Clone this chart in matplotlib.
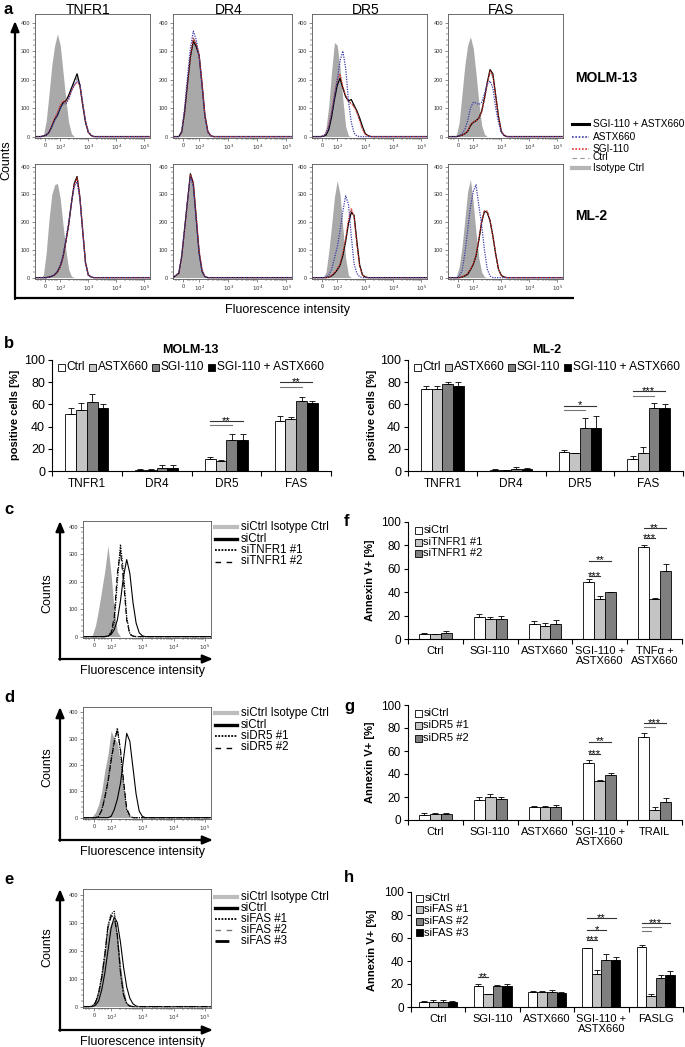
import numpy as np
import matplotlib
matplotlib.use('Agg')
import matplotlib.pyplot as plt
from matplotlib.patches import Rectangle

plt.rcParams['font.family'] = ['Liberation Sans', 'DejaVu Sans']

# ---- flow histograms: counts on a display-unit grid
# (u = log10 of intensity, 10^2 -> 2, 10^3 -> 3 ...)
U_GRID = [1.3, 1.4, 1.5, 1.6, 1.7, 1.8, 1.9, 2.0, 2.1, 2.2, 2.3,
          2.4, 2.5, 2.6, 2.7, 2.8, 2.9, 3.0, 3.1, 3.2, 3.3]
X_TICKS = [1.45, 2, 3, 4, 5]
X_TICK_LABELS = ['0', '$10^2$', '$10^3$', '$10^4$', '$10^5$']

# panel a, MOLM-13
molm_tnfr1 = dict(
    iso=[0, 5, 55, 150, 250, 320, 360, 320, 225, 130, 50, 10, 0, 0, 0, 0, 0, 0, 0, 0, 0],
    ctrl=[0, 2, 5, 15, 35, 60, 80, 105, 120, 125, 140, 165, 190, 205, 180, 112, 50, 15, 4, 0, 0],
    sgi=[0, 2, 5, 15, 40, 65, 85, 110, 125, 120, 135, 160, 180, 190, 180, 115, 55, 15, 4, 0, 0],
    astx=[0, 2, 5, 15, 35, 55, 75, 100, 115, 115, 130, 160, 180, 195, 185, 120, 55, 18, 5, 0, 0],
    combo=[0, 2, 5, 15, 35, 60, 75, 100, 120, 125, 145, 170, 195, 220, 180, 110, 50, 15, 4, 0, 0])
molm_dr4 = dict(
    iso=[0, 15, 90, 190, 290, 350, 330, 280, 180, 70, 15, 2, 0, 0, 0, 0, 0, 0, 0, 0, 0],
    ctrl=[0, 15, 88, 188, 285, 340, 320, 285, 185, 72, 16, 2, 0, 0, 0, 0, 0, 0, 0, 0, 0],
    sgi=[0, 15, 90, 190, 285, 345, 325, 290, 190, 75, 18, 3, 0, 0, 0, 0, 0, 0, 0, 0, 0],
    astx=[0, 20, 100, 210, 310, 370, 340, 280, 175, 65, 15, 2, 0, 0, 0, 0, 0, 0, 0, 0, 0],
    combo=[0, 15, 85, 185, 280, 335, 315, 285, 185, 75, 18, 3, 0, 0, 0, 0, 0, 0, 0, 0, 0])
molm_dr5 = dict(
    iso=[0, 0, 2, 30, 110, 230, 330, 320, 240, 130, 35, 3, 0, 0, 0, 0, 0, 0, 0, 0, 0],
    ctrl=[0, 0, 2, 8, 35, 85, 145, 195, 215, 172, 142, 122, 118, 105, 85, 58, 28, 8, 2, 0, 0],
    sgi=[0, 0, 2, 10, 40, 90, 150, 200, 220, 175, 145, 125, 115, 105, 85, 55, 25, 8, 2, 0, 0],
    astx=[0, 0, 2, 10, 35, 80, 140, 200, 265, 300, 240, 125, 50, 12, 2, 0, 0, 0, 0, 0, 0],
    combo=[0, 0, 1, 5, 25, 70, 130, 180, 205, 170, 140, 125, 130, 110, 90, 65, 35, 10, 3, 0, 0])
molm_fas = dict(
    iso=[0, 5, 50, 150, 250, 320, 350, 310, 220, 120, 40, 8, 0, 0, 0, 0, 0, 0, 0, 0, 0],
    ctrl=[0, 0, 2, 5, 10, 20, 42, 55, 58, 68, 90, 135, 188, 225, 210, 140, 68, 18, 4, 0, 0],
    sgi=[0, 0, 2, 5, 10, 20, 40, 52, 55, 65, 85, 130, 185, 230, 215, 140, 70, 20, 5, 0, 0],
    astx=[0, 0, 3, 10, 25, 55, 100, 120, 118, 112, 120, 150, 185, 195, 170, 100, 50, 15, 3, 0, 0],
    combo=[0, 0, 2, 5, 10, 18, 38, 50, 55, 65, 88, 135, 190, 235, 220, 145, 70, 18, 4, 0, 0])

# panel a, ML-2
ml2_tnfr1 = dict(
    iso=[0, 10, 90, 210, 300, 335, 340, 285, 190, 100, 30, 5, 0, 0, 0, 0, 0, 0, 0, 0, 0],
    ctrl=[0, 0, 0, 2, 5, 10, 20, 40, 74, 130, 190, 272, 338, 362, 290, 170, 55, 10, 2, 0, 0],
    sgi=[0, 0, 0, 2, 5, 10, 20, 40, 72, 128, 188, 268, 335, 360, 292, 172, 55, 10, 2, 0, 0],
    astx=[0, 0, 0, 2, 5, 12, 25, 45, 80, 140, 200, 270, 330, 345, 285, 165, 50, 8, 2, 0, 0],
    combo=[0, 0, 0, 2, 5, 10, 20, 40, 75, 130, 190, 270, 340, 365, 290, 170, 55, 10, 2, 0, 0])
ml2_dr4 = dict(
    iso=[15, 70, 170, 270, 360, 330, 210, 90, 25, 3, 0, 0, 0, 0, 0, 0, 0, 0, 0, 0, 0],
    ctrl=[15, 74, 175, 275, 372, 338, 212, 90, 25, 3, 0, 0, 0, 0, 0, 0, 0, 0, 0, 0, 0],
    sgi=[15, 72, 172, 272, 370, 345, 225, 100, 30, 4, 0, 0, 0, 0, 0, 0, 0, 0, 0, 0, 0],
    astx=[18, 80, 180, 280, 365, 325, 205, 85, 22, 3, 0, 0, 0, 0, 0, 0, 0, 0, 0, 0, 0],
    combo=[15, 75, 175, 275, 375, 340, 215, 90, 25, 3, 0, 0, 0, 0, 0, 0, 0, 0, 0, 0, 0])
ml2_dr5 = dict(
    iso=[0, 0, 0, 20, 95, 190, 290, 350, 300, 180, 70, 8, 0, 0, 0, 0, 0, 0, 0, 0, 0],
    ctrl=[0, 0, 0, 0, 2, 7, 16, 30, 48, 85, 135, 200, 242, 222, 125, 42, 9, 2, 0, 0, 0],
    sgi=[0, 0, 0, 0, 2, 8, 18, 30, 50, 90, 140, 210, 250, 220, 120, 40, 8, 2, 0, 0, 0],
    astx=[0, 0, 0, 2, 10, 30, 70, 110, 170, 240, 295, 265, 150, 50, 15, 3, 0, 0, 0, 0, 0],
    combo=[0, 0, 0, 0, 2, 6, 15, 28, 45, 80, 130, 195, 235, 225, 130, 45, 10, 2, 0, 0, 0])
ml2_fas = dict(
    iso=[0, 5, 40, 110, 210, 310, 355, 270, 160, 70, 20, 3, 0, 0, 0, 0, 0, 0, 0, 0, 0],
    ctrl=[0, 0, 0, 2, 7, 14, 29, 49, 79, 138, 203, 238, 238, 205, 150, 85, 30, 8, 2, 0, 0],
    sgi=[0, 0, 0, 2, 8, 15, 30, 50, 80, 140, 205, 240, 240, 205, 150, 85, 30, 8, 2, 0, 0],
    astx=[0, 0, 5, 25, 85, 170, 255, 310, 335, 260, 190, 100, 30, 6, 0, 0, 0, 0, 0, 0, 0],
    combo=[0, 0, 0, 2, 6, 12, 28, 48, 78, 135, 200, 240, 235, 205, 150, 85, 30, 8, 2, 0, 0])

# panels c, d, e (knock-down histograms)
c_hist = dict(
    iso=[0, 5, 40, 100, 170, 240, 330, 225, 95, 18, 0, 0, 0, 0, 0, 0, 0, 0, 0, 0, 0],
    si_ctrl=[0, 0, 0, 0, 0, 0, 2, 8, 25, 60, 130, 220, 280, 230, 125, 50, 14, 3, 0, 0, 0],
    si1=[0, 0, 0, 0, 0, 0, 2, 10, 50, 200, 335, 230, 70, 10, 2, 0, 0, 0, 0, 0, 0],
    si2=[0, 0, 0, 0, 0, 0, 3, 15, 70, 230, 310, 200, 60, 8, 2, 0, 0, 0, 0, 0, 0])
d_hist = dict(
    iso=[0, 5, 20, 50, 100, 180, 240, 330, 300, 285, 210, 110, 30, 5, 0, 0, 0, 0, 0, 0, 0],
    si_ctrl=[0, 0, 0, 0, 0, 0, 0, 5, 30, 70, 130, 225, 320, 290, 190, 90, 25, 5, 0, 0, 0],
    si1=[0, 0, 0, 5, 30, 80, 140, 220, 290, 340, 250, 130, 30, 6, 0, 0, 0, 0, 0, 0, 0],
    si2=[0, 0, 0, 5, 28, 75, 135, 215, 285, 335, 260, 140, 35, 8, 0, 0, 0, 0, 0, 0, 0])
e_hist = dict(
    iso=[0, 5, 25, 60, 120, 190, 270, 300, 310, 265, 150, 65, 15, 3, 0, 0, 0, 0, 0, 0, 0],
    si_ctrl=[0, 0, 5, 20, 60, 120, 200, 280, 320, 300, 230, 140, 70, 30, 10, 2, 0, 0, 0, 0, 0],
    si1=[0, 2, 15, 50, 110, 190, 290, 330, 340, 250, 120, 40, 10, 2, 0, 0, 0, 0, 0, 0, 0],
    si2=[0, 2, 12, 45, 100, 180, 280, 320, 330, 260, 130, 45, 12, 2, 0, 0, 0, 0, 0, 0, 0],
    si3=[0, 2, 14, 48, 105, 185, 285, 325, 320, 255, 125, 42, 10, 2, 0, 0, 0, 0, 0, 0, 0])

# ---- bar charts
receptors = ['TNFR1', 'DR4', 'DR5', 'FAS']
treat_labels = ['Ctrl', 'ASTX660', 'SGI-110', 'SGI-110 + ASTX660']
molm_mean = [[51, 1, 11, 45], [55, 1, 9, 47], [62, 3, 28, 63], [57, 3, 28, 61]]
molm_sd = [[6, 0.5, 1.5, 5], [6, 0.7, 1, 2], [7, 2, 5, 4], [3, 2, 5, 2]]
ml2_mean = [[74, 1, 17, 11], [74, 0.5, 16, 16], [78, 2, 39, 57], [77, 1.5, 39, 57]]
ml2_sd = [[3, 0.5, 1.5, 2.5], [3, 0.3, 0.5, 6], [2, 1.5, 9, 4], [3, 1, 11, 3]]

f_cats = ['Ctrl', 'SGI-110', 'ASTX660', 'SGI-110 +\nASTX660', 'TNFα +\nASTX660']
f_labels = ['siCtrl', 'siTNFR1 #1', 'siTNFR1 #2']
f_mean = [[4, 19, 13, 49, 79], [4, 17.5, 11, 34, 34], [5, 17, 12.5, 40, 58]]
f_sd = [[1.5, 2, 2.5, 2, 1], [0.5, 1.5, 2.5, 2.5, 1], [1.5, 3, 3.5, 0.5, 6]]

g_cats = ['Ctrl', 'SGI-110', 'ASTX660', 'SGI-110 +\nASTX660', 'TRAIL']
g_labels = ['siCtrl', 'siDR5 #1', 'siDR5 #2']
g_mean = [[4, 17.5, 11, 50, 72], [5, 20, 11.5, 34, 9], [5, 18.5, 11.5, 39, 15.5]]
g_sd = [[2, 2.5, 1, 2, 4], [1.5, 2.5, 1, 0.5, 2], [1.5, 1.5, 1.5, 1.5, 3.5]]

h_cats = ['Ctrl', 'SGI-110', 'ASTX660', 'SGI-110 +\nASTX660', 'FASLG']
h_labels = ['siCtrl', 'siFAS #1', 'siFAS #2', 'siFAS #3']
h_mean = [[4, 18, 13, 51, 52], [4, 11, 13, 29, 9.5], [4, 18, 13, 41, 25], [4, 18, 12.5, 40.5, 28]]
h_sd = [[1, 2, 0.5, 0, 2], [2, 0, 0.5, 3, 2], [2, 1.5, 1.5, 5, 2.5], [1, 2, 0.5, 3, 3]]

# significance: (group, bar i, bar j, height, stars)
molm_sig = [(2, 0, 3, 45, '**'), (2, 0, 2, 41, ''), (3, 0, 3, 80, '**'), (3, 0, 2, 76, '')]
ml2_sig = [(2, 0, 3, 59, '*'), (2, 0, 2, 55, ''), (3, 0, 3, 72, '***'), (3, 0, 2, 68, '')]
f_sig = [(3, 0, 2, 67, '**'), (3, 0, 1, 54, '***'), (4, 0, 2, 95, '**'), (4, 0, 1, 86, '***')]
g_sig = [(3, 0, 2, 68, '**'), (3, 0, 1, 57, '***'), (4, 0, 2, 84, '***'), (4, 0, 1, 81, '')]
h_sig = [(1, 0, 1, 26, '**'), (3, 0, 3, 77, '**'), (3, 0, 2, 67, '*'), (3, 0, 1, 58, '***'),
         (4, 0, 3, 73, '***'), (4, 0, 2, 69.5, ''), (4, 0, 1, 66, '')]

BAR4 = ['white', '#c4c4c4', '#7f7f7f', 'black']
ISO = '#a9a9a9'
BLUE = '#3b3ba8'
RED = '#e3302a'

W, H = 685, 1047
fig = plt.figure(figsize=(W / 100, H / 100), dpi=100)
renderer = fig.canvas.get_renderer()


def px_ax(x0, y0, x1, y1):
    return fig.add_axes([x0 / W, 1 - y1 / H, (x1 - x0) / W, (y1 - y0) / H])


def hist_ax(box, curves, ytop):
    ax = px_ax(*box)
    xs = [1.1] + U_GRID + [5.2]
    for vals, style in curves:
        ys = [0] + vals + [0]
        if style == 'fill':
            ax.fill_between(xs, ys, color=ISO, lw=0)
        else:
            ax.plot(xs, ys, **style)
    ax.set_xlim(1.1, 5.2)
    ax.set_ylim(-5, ytop)
    ax.set_xticks(X_TICKS)
    ax.set_xticklabels(X_TICK_LABELS)
    minors = [1.2, 1.3, 1.6, 1.7, 1.8, 1.9]
    minors += [d + np.log10(k) for d in (2, 3, 4) for k in range(2, 10)]
    ax.set_xticks(minors, minor=True)
    ax.set_yticks([0, 100, 200, 300, 400])
    ax.set_yticks(range(0, 420, 20), minor=True)
    ax.tick_params(labelsize=4, length=2, width=0.4, pad=1.5, colors='#333')
    ax.tick_params(which='minor', length=1.2, width=0.3)
    for sp in ax.spines.values():
        sp.set_linewidth(0.6)
        sp.set_color('#555')
    return ax


def flow_panel(box, d, ytop):
    curves = [(d['iso'], 'fill'),
              (d['ctrl'], dict(color='#888888', lw=0.7, ls=(0, (4, 3)))),
              (d['combo'], dict(color='black', lw=0.9)),
              (d['sgi'], dict(color=RED, lw=0.9, ls=(0, (1, 1)))),
              (d['astx'], dict(color=BLUE, lw=0.9, ls=(0, (1, 1))))]
    return hist_ax(box, curves, ytop)


def bar_panel(box, cats, means, sds, bw, sigs, fs):
    ax = px_ax(*box)
    x = np.arange(len(cats))
    n = len(means)
    cols = BAR4 if n == 4 else BAR4[:3]
    for i in range(n):
        off = (i - (n - 1) / 2) * bw
        ax.bar(x + off, means[i], bw, color=cols[i], edgecolor='black', linewidth=0.6, zorder=2)
        ax.errorbar(x + off, means[i], yerr=[np.zeros(len(x)), sds[i]], fmt='none',
                    ecolor='black', elinewidth=0.6, capsize=2.2, capthick=0.6, zorder=3)
    for g, i, j, y, lab in sigs:
        x0 = g + (i - (n - 1) / 2) * bw
        x1 = g + (j - (n - 1) / 2) * bw
        ax.plot([x0, x1], [y, y], color='#333' if lab else '#777', lw=0.8, clip_on=False)
        if lab:
            ax.annotate(lab, xy=((x0 + x1) / 2, y), xytext=(0, -2), textcoords='offset points',
                        ha='center', va='baseline', fontsize=8)
    ax.set_xlim(-0.5, len(cats) - 0.5)
    ax.set_ylim(0, 100)
    ax.set_yticks(range(0, 101, 20))
    ax.set_xticks(np.arange(len(cats) + 1) - 0.5)
    ax.set_xticklabels([])
    ax.set_xticks(x, minor=True)
    ax.set_xticklabels(cats, minor=True, fontsize=fs, linespacing=1.0)
    ax.tick_params(axis='x', which='major', length=3.5, width=0.8, direction='out')
    ax.tick_params(axis='x', which='minor', length=0, pad=5)
    ax.tick_params(axis='y', labelsize=fs + 0.5, length=3, width=0.8, pad=2)
    ax.spines['top'].set_visible(False)
    ax.spines['right'].set_visible(False)
    for s in ('left', 'bottom'):
        ax.spines[s].set_linewidth(0.8)
    return ax


# overlay in pixel coordinates for labels, arrows and hand-set legends
ov = fig.add_axes([0, 0, 1, 1], zorder=10)
ov.set_xlim(0, W)
ov.set_ylim(H, 0)
ov.axis('off')


def arrow(x0, y0, x1, y1):
    ov.annotate('', xy=(x1, y1), xytext=(x0, y0),
                arrowprops=dict(arrowstyle='-|>,head_length=0.6,head_width=0.25',
                                lw=1.6, color='black', shrinkA=0, shrinkB=0))


def sq_legend(x, ys, labels, cols, fs):
    for y, lab, c in zip(ys, labels, cols):
        ov.add_patch(Rectangle((x, y - 3.5), 7, 7, fc=c, ec='black', lw=0.6))
        ov.text(x + 8.5, y, lab, va='center', ha='left', fontsize=fs)


def row_legend(x, y, labels, cols, fs, gap):
    # one-row legend: each entry starts where the previous text ends
    for lab, c in zip(labels, cols):
        ov.add_patch(Rectangle((x, y - 3.5), 7, 7, fc=c, ec='black', lw=0.6))
        t = ov.text(x + 8.5, y, lab, va='center', ha='left', fontsize=fs)
        x = x + 8.5 + t.get_window_extent(renderer).width + gap


def line_legend(x0, x1, ys, labels, styles, fs):
    for y, lab, st in zip(ys, labels, styles):
        ov.plot([x0, x1], [y, y], **st)
        ov.text(x1 + 4, y, lab, va='center', ha='left', fontsize=fs)


# ---------------- panel a
cols_px = [(35, 150), (173, 292), (312, 427), (448, 563)]
rows_px = [(14, 138), (164, 279)]
row_top = [430, 410]
titles = ['TNFR1', 'DR4', 'DR5', 'FAS']
for ci, (d1, d2) in enumerate([(molm_tnfr1, ml2_tnfr1), (molm_dr4, ml2_dr4),
                               (molm_dr5, ml2_dr5), (molm_fas, ml2_fas)]):
    x0, x1 = cols_px[ci]
    flow_panel((x0, rows_px[0][0], x1, rows_px[0][1]), d1, row_top[0])
    flow_panel((x0, rows_px[1][0], x1, rows_px[1][1]), d2, row_top[1])
    ov.text((x0 + x1) / 2 - 4, 10, titles[ci], ha='center', va='center', fontsize=10)

ov.plot([15, 574], [298, 298], color='black', lw=1.6, solid_capstyle='butt')
arrow(15, 299, 15, 21)
ov.text(4, 10, 'a', fontsize=12, fontweight='bold', va='center')
ov.text(6, 160, 'Counts', rotation=90, ha='center', va='center', fontsize=9)
ov.text(288, 310, 'Fluorescence intensity', ha='center', va='center', fontsize=9)
ov.text(575, 78, 'MOLM-13', fontsize=10, fontweight='bold', va='center')
ov.text(575, 216, 'ML-2', fontsize=10, fontweight='bold', va='center')
line_legend(572, 589, [124, 136.5, 149, 157.5, 168],
            ['SGI-110 + ASTX660', 'ASTX660', 'SGI-110', 'Ctrl', 'Isotype Ctrl'],
            [dict(color='black', lw=2.2), dict(color=BLUE, lw=1.2, ls=(0, (1, 1))),
             dict(color=RED, lw=1.2, ls=(0, (1, 1))), dict(color='#999', lw=0.8, ls=(0, (4, 3))),
             dict(color='#b5b5b5', lw=3)], 7.3)

# ---------------- panel b
ov.text(4, 343, 'b', fontsize=12, fontweight='bold', va='center')
bar_panel((52, 360, 331, 471), receptors, molm_mean, molm_sd, 0.155, molm_sig, 8.5)
bar_panel((408, 360, 683, 471), receptors, ml2_mean, ml2_sd, 0.155, ml2_sig, 8.5)
ov.text(190, 350, 'MOLM-13', ha='center', va='center', fontsize=9, fontweight='bold')
ov.text(547, 350, 'ML-2', ha='center', va='center', fontsize=9, fontweight='bold')
for xl, yc in [(15, 415), (372, 415)]:
    ov.text(xl, yc, 'positive cells [%]', rotation=90, ha='center', va='center',
            fontsize=8, fontweight='bold')
row_legend(58, 367, treat_labels, BAR4, 8.6, 4)
row_legend(414, 367, treat_labels, BAR4, 8.6, 4)

# ---------------- panels c, d, e
kd_styles = [dict(color='black', lw=0.8), dict(color='black', lw=0.9, ls=(0, (1, 1))),
             dict(color='black', lw=0.8, ls=(0, (5, 3)))]
hist_ax((83, 521, 211, 638), [(c_hist['iso'], 'fill'), (c_hist['si_ctrl'], kd_styles[0]),
                             (c_hist['si1'], kd_styles[1]), (c_hist['si2'], kd_styles[2])], 420)
hist_ax((83, 707, 211, 819), [(d_hist['iso'], 'fill'), (d_hist['si_ctrl'], kd_styles[0]),
                             (d_hist['si1'], kd_styles[1]), (d_hist['si2'], kd_styles[2])], 420)
hist_ax((83, 889, 211, 1008), [(e_hist['iso'], 'fill'), (e_hist['si_ctrl'], kd_styles[0]),
                              (e_hist['si1'], kd_styles[1]),
                              (e_hist['si2'], dict(color='#555', lw=0.8, ls=(0, (5, 3)))),
                              (e_hist['si3'], dict(color='black', lw=0.8, ls=(0, (6, 2, 1, 2))))], 420)

leg_iso = dict(color='#bdbdbd', lw=3)
leg_ctrl = dict(color='black', lw=2.4)
leg_dot = dict(color='black', lw=1.3, ls=(0, (1, 0.8)))
leg_dash = dict(color='black', lw=1.0, ls=(0, (4, 4)))
for letter, ly, fy_top, fy_bot, cy in [('c', 510, 521, 659, 593), ('d', 698, 707, 840, 767),
                                        ('e', 880, 889, 1030, 947)]:
    ov.text(4, ly, letter, fontsize=12, fontweight='bold', va='center')
    arrow(60, fy_bot + 0.8, 60, fy_top)
    arrow(59.2, fy_bot, 213, fy_bot)
    ov.text(47, cy, 'Counts', rotation=90, ha='center', va='center', fontsize=9)
    ov.text(143, fy_bot + 12, 'Fluorescence intensity', ha='center', va='center', fontsize=9)

line_legend(215, 237, [527, 539, 550, 561.5],
            ['siCtrl Isotype Ctrl', 'siCtrl', 'siTNFR1 #1', 'siTNFR1 #2'],
            [leg_iso, leg_ctrl, leg_dot, leg_dash], 8.3)
line_legend(215, 237, [713, 724.5, 736, 747.5],
            ['siCtrl Isotype Ctrl', 'siCtrl', 'siDR5 #1', 'siDR5 #2'],
            [leg_iso, leg_ctrl, leg_dot, leg_dash], 8.3)
line_legend(215, 237, [897, 908, 919, 930, 941],
            ['siCtrl Isotype Ctrl', 'siCtrl', 'siFAS #1', 'siFAS #2', 'siFAS #3'],
            [leg_iso, leg_ctrl, leg_dot, dict(color='#777', lw=1.0, ls=(0, (4, 4))),
             dict(color='black', lw=2.0, ls=(0, (5, 5, 1, 5)))], 8.3)

# ---------------- panels f, g, h
bar_panel((408, 522, 682, 639), f_cats, f_mean, f_sd, 0.2, f_sig, 8)
bar_panel((408, 705, 682, 820), g_cats, g_mean, g_sd, 0.2, g_sig, 8)
bar_panel((411, 892, 683, 1007), h_cats, h_mean, h_sd, 0.175, h_sig, 8)
for letter, ly, yc, xl in [('f', 522, 580, 370), ('g', 707, 762, 370), ('h', 877, 950, 372)]:
    ov.text(344, ly, letter, fontsize=12, fontweight='bold', va='center')
    ov.text(xl, yc, 'Annexin V+ [%]', rotation=90, ha='center', va='center',
            fontsize=8, fontweight='bold')
sq_legend(415, [530, 542, 553.5], f_labels, BAR4[:3], 8)
sq_legend(415, [713, 725.5, 738], g_labels, BAR4[:3], 8)
sq_legend(416, [898, 909.5, 921, 932.5], h_labels, BAR4, 8)

fig.savefig('out.png', dpi=100)
